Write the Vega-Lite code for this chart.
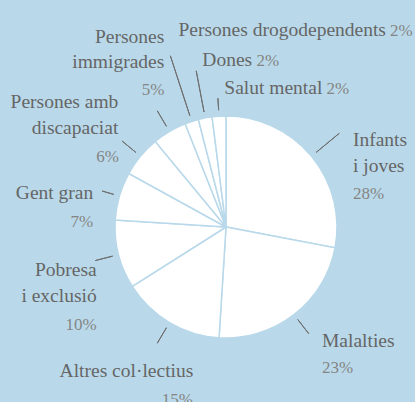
{
  "$schema": "https://vega.github.io/schema/vega-lite/v6.json",
  "width": 378,
  "height": 350,
  "autosize": "none",
  "padding": {"left": 37, "top": 52, "right": 0, "bottom": 0},
  "background": "#b9d9ea",
  "view": {"stroke": null},
  "config": {"text": {"font": "Liberation Serif", "baseline": "alphabetic", "lineHeight": 25.5}},
  "data": {"values": [
    {"idx": 1, "cat": "Infants i joves", "value": 28, "name": ["Infants", "i joves"], "pct": "28%"},
    {"idx": 2, "cat": "Malalties", "value": 23, "name": ["Malalties"], "pct": "23%"},
    {"idx": 3, "cat": "Altres col·lectius", "value": 15, "name": ["Altres col·lectius"], "pct": "15%"},
    {"idx": 4, "cat": "Pobresa i exclusió", "value": 10, "name": ["Pobresa", "i exclusió"], "pct": "10%"},
    {"idx": 5, "cat": "Gent gran", "value": 7, "name": ["Gent gran"], "pct": "7%"},
    {"idx": 6, "cat": "Persones amb discapacitat", "value": 6, "name": ["Persones amb", "discapaciat"], "pct": "6%"},
    {"idx": 7, "cat": "Persones immigrades", "value": 5, "name": ["Persones", "immigrades"], "pct": "5%"},
    {"idx": 8, "cat": "Persones drogodependents", "value": 2, "name": ["Persones drogodependents"], "pct": "2%"},
    {"idx": 9, "cat": "Dones", "value": 2, "name": ["Dones"], "pct": "2%"},
    {"idx": 10, "cat": "Salut mental", "value": 2, "name": ["Salut mental"], "pct": "2%"}
  ]},
  "encoding": {
    "theta": {"field": "value", "type": "quantitative", "stack": true},
    "order": {"field": "idx", "type": "quantitative"}
  },
  "layer": [
    {"mark": {"type": "arc", "outerRadius": 111, "fill": "white", "stroke": "#b9d9ea", "strokeWidth": 1.5}},
    {"mark": {"type": "arc", "padAngle": 3, "innerRadius": 117, "outerRadius": 135, "fillOpacity": 0, "stroke": "#6e6e6e", "strokeWidth": 1},
     "encoding": {"strokeOpacity": {"condition": {"test": "datum.idx==2||datum.idx==3||datum.idx==4||datum.idx==6||datum.idx==7", "value": 1}, "value": 0}}},
    {"mark": {"type": "arc", "padAngle": 3, "innerRadius": 117, "outerRadius": 129, "fillOpacity": 0, "stroke": "#6e6e6e", "strokeWidth": 1},
     "encoding": {"strokeOpacity": {"condition": {"test": "datum.idx==5||datum.idx==10", "value": 1}, "value": 0}}},
    {"mark": {"type": "arc", "padAngle": 3, "innerRadius": 117, "outerRadius": 147, "fillOpacity": 0, "stroke": "#6e6e6e", "strokeWidth": 1},
     "encoding": {"strokeOpacity": {"condition": {"test": "datum.idx==1", "value": 1}, "value": 0}}},
    {"mark": {"type": "arc", "padAngle": 3, "innerRadius": 117, "outerRadius": 159, "fillOpacity": 0, "stroke": "#6e6e6e", "strokeWidth": 1},
     "encoding": {"strokeOpacity": {"condition": {"test": "datum.idx==9", "value": 1}, "value": 0}}},
    {"mark": {"type": "arc", "padAngle": 3, "innerRadius": 117, "outerRadius": 180, "fillOpacity": 0, "stroke": "#6e6e6e", "strokeWidth": 1},
     "encoding": {"strokeOpacity": {"condition": {"test": "datum.idx==8", "value": 1}, "value": 0}}},

    {"mark": {"type": "text", "radius": 130, "align": "left", "dx": 26.8, "dy": 1.9, "fontSize": 19.5, "color": "#666666"},
     "encoding": {"text": {"condition": {"test": "datum.idx==1", "field": "name"}, "value": ""}}},
    {"mark": {"type": "text", "radius": 130, "align": "left", "dx": 16.3, "dy": 17.6, "fontSize": 19.5, "color": "#666666"},
     "encoding": {"text": {"condition": {"test": "datum.idx==2", "field": "name"}, "value": ""}}},
    {"mark": {"type": "text", "radius": 130, "align": "right", "dx": 33.5, "dy": 37.8, "fontSize": 19.5, "color": "#666666"},
     "encoding": {"text": {"condition": {"test": "datum.idx==3", "field": "name"}, "value": ""}}},
    {"mark": {"type": "text", "radius": 130, "align": "right", "dx": -3.4, "dy": 16.7, "fontSize": 19.5, "color": "#666666"},
     "encoding": {"text": {"condition": {"test": "datum.idx==4", "field": "name"}, "value": ""}}},
    {"mark": {"type": "text", "radius": 130, "align": "right", "dx": -7.9, "dy": 8.6, "fontSize": 19.5, "color": "#666666"},
     "encoding": {"text": {"condition": {"test": "datum.idx==5", "field": "name"}, "value": ""}}},
    {"mark": {"type": "text", "radius": 130, "align": "right", "dx": -7.5, "dy": -35.8, "fontSize": 19.5, "color": "#666666"},
     "encoding": {"text": {"condition": {"test": "datum.idx==6", "field": "name"}, "value": ""}}},
    {"mark": {"type": "text", "radius": 130, "align": "right", "dx": 4.5, "dy": -72.4, "fontSize": 19.5, "color": "#666666"},
     "encoding": {"text": {"condition": {"test": "datum.idx==7", "field": "name"}, "value": ""}}},
    {"mark": {"type": "text", "radius": 130, "align": "left", "dx": -7.3, "dy": -67.4, "fontSize": 19.5, "color": "#666666"},
     "encoding": {"text": {"condition": {"test": "datum.idx==8", "field": "name"}, "value": ""}}},
    {"mark": {"type": "text", "radius": 130, "align": "left", "dx": 0.7, "dy": -33.3, "fontSize": 19.5, "color": "#666666"},
     "encoding": {"text": {"condition": {"test": "datum.idx==9", "field": "name"}, "value": ""}}},
    {"mark": {"type": "text", "radius": 130, "align": "left", "dx": 6.5, "dy": -3, "fontSize": 19.5, "color": "#666666"},
     "encoding": {"text": {"condition": {"test": "datum.idx==10", "field": "name"}, "value": ""}}},

    {"mark": {"type": "text", "radius": 130, "align": "left", "dx": 26.8, "dy": 55.2, "fontSize": 17, "color": "#858585"},
     "encoding": {"text": {"condition": {"test": "datum.idx==1", "field": "pct"}, "value": ""}}},
    {"mark": {"type": "text", "radius": 130, "align": "left", "dx": 16.3, "dy": 43.6, "fontSize": 17, "color": "#858585"},
     "encoding": {"text": {"condition": {"test": "datum.idx==2", "field": "pct"}, "value": ""}}},
    {"mark": {"type": "text", "radius": 130, "align": "right", "dx": 33.2, "dy": 66, "fontSize": 17, "color": "#858585"},
     "encoding": {"text": {"condition": {"test": "datum.idx==3", "field": "pct"}, "value": ""}}},
    {"mark": {"type": "text", "radius": 130, "align": "right", "dx": -3.4, "dy": 70.7, "fontSize": 17, "color": "#858585"},
     "encoding": {"text": {"condition": {"test": "datum.idx==4", "field": "pct"}, "value": ""}}},
    {"mark": {"type": "text", "radius": 130, "align": "right", "dx": -7.9, "dy": 36.6, "fontSize": 17, "color": "#858585"},
     "encoding": {"text": {"condition": {"test": "datum.idx==5", "field": "pct"}, "value": ""}}},
    {"mark": {"type": "text", "radius": 130, "align": "right", "dx": -6.8, "dy": 17.6, "fontSize": 17, "color": "#858585"},
     "encoding": {"text": {"condition": {"test": "datum.idx==6", "field": "pct"}, "value": ""}}},
    {"mark": {"type": "text", "radius": 130, "align": "right", "dx": 4.5, "dy": -20.1, "fontSize": 17, "color": "#858585"},
     "encoding": {"text": {"condition": {"test": "datum.idx==7", "field": "pct"}, "value": ""}}},
    {"mark": {"type": "text", "radius": 130, "align": "left", "dx": 204.2, "dy": -67.4, "fontSize": 17, "color": "#858585"},
     "encoding": {"text": {"condition": {"test": "datum.idx==8", "field": "pct"}, "value": ""}}},
    {"mark": {"type": "text", "radius": 130, "align": "left", "dx": 54.9, "dy": -33.3, "fontSize": 17, "color": "#858585"},
     "encoding": {"text": {"condition": {"test": "datum.idx==9", "field": "pct"}, "value": ""}}},
    {"mark": {"type": "text", "radius": 130, "align": "left", "dx": 108.7, "dy": -3, "fontSize": 17, "color": "#858585"},
     "encoding": {"text": {"condition": {"test": "datum.idx==10", "field": "pct"}, "value": ""}}}
  ]
}
